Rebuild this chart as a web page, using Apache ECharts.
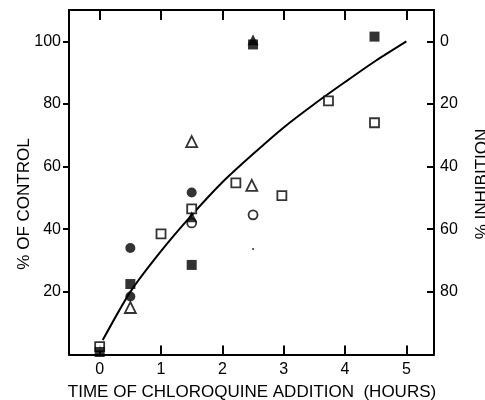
<!DOCTYPE html>
<html>
<head>
<meta charset="utf-8">
<script src="https://cdn.jsdelivr.net/npm/echarts@6/dist/echarts.min.js"></script>
<style>
html, body { margin: 0; padding: 0; background: #fff; }
#chart { width: 485px; height: 400px; }
</style>
</head>
<body>
<div id="chart"></div>
<script>
// tick labels
const xTicks = [0, 1, 2, 3, 4, 5]
const leftTicks = [20, 40, 60, 80, 100]
const rightTicks = [0, 20, 40, 60, 80]

// fitted curve
const curveX = [0.05, 0.5, 1, 1.5, 2, 2.5, 3, 3.5, 4, 4.5, 5]
const curveY = [4.6, 20, 33, 44.5, 55, 64, 72.5, 80, 87, 93.8, 100]

// measured points [hours, % of control]
const filledCircle = [[0.5, 34], [0.5, 18.5], [1.5, 51.7]]
const openCircle = [[1.5, 42], [2.5, 44.6]]
const openSquare = [[0, 2.5], [1, 38.5], [1.5, 46.5], [2.22, 54.8], [2.97, 50.7], [3.73, 81], [4.48, 74]]
const filledSquare = [[0, 0.8], [0.5, 22.5], [1.5, 28.6], [2.5, 99], [4.48, 101.5]]
const openTriangle = [[0.5, 15], [1.5, 68], [2.48, 54]]
const filledTriangle = [[2.5, 100.5], [1.5, 44]]
const speck = [[2.5, 33.7]]

const font = 'Liberation Sans'
const black = '#000'

const axisLine = { show: true, onZero: false, lineStyle: { color: black, width: 2 } }

const pointSeries = (data, symbol, size, filled) => ({
    type: 'scatter',
    data: data,
    symbol: symbol,
    symbolSize: size,
    itemStyle: {
        color: filled ? black : '#fff',
        borderColor: black,
        borderWidth: filled ? 0 : 1.8,
    },
    z: 5,
})

const titleStyle = (text) => ({
    text: text,
    font: '17px "Liberation Sans"',
    fill: black,
    textAlign: 'center',
    textVerticalAlign: 'middle',
    align: 'center',
    verticalAlign: 'middle',
})

const option = {
    backgroundColor: '#fff',
    animation: false,
    grid: { left: 69, right: 51, top: 10, bottom: 45.5 },
    xAxis: [
        {
            type: 'value',
            min: -0.5,
            max: 5.45,
            axisLine: axisLine,
            splitLine: { show: false },
            axisTick: { show: true, inside: true, length: 9, customValues: xTicks, lineStyle: { color: black, width: 2 } },
            axisLabel: { customValues: xTicks, color: black, fontFamily: font, fontSize: 16, margin: 7 },
        },
        {
            type: 'value',
            position: 'top',
            min: -0.5,
            max: 5.45,
            axisLine: axisLine,
            splitLine: { show: false },
            axisTick: { show: true, inside: true, length: 10, customValues: xTicks, lineStyle: { color: black, width: 2 } },
            axisLabel: { show: false },
        },
    ],
    yAxis: [
        {
            type: 'value',
            min: 0,
            max: 110,
            axisLine: axisLine,
            splitLine: { show: false },
            axisTick: { show: true, inside: false, length: 6, customValues: leftTicks, lineStyle: { color: black, width: 2 } },
            axisLabel: { customValues: leftTicks, color: black, fontFamily: font, fontSize: 16, margin: 8 },
        },
        {
            type: 'value',
            position: 'right',
            inverse: true,
            min: -10,
            max: 100,
            axisLine: axisLine,
            splitLine: { show: false },
            axisTick: { show: true, inside: true, length: 7, customValues: rightTicks, lineStyle: { color: black, width: 2 } },
            axisLabel: { customValues: rightTicks, color: black, fontFamily: font, fontSize: 16, margin: 6 },
        },
    ],
    graphic: [
        { type: 'text', x: 252, y: 392, style: titleStyle('TIME OF CHLOROQUINE ADDITION  (HOURS)') },
        { type: 'text', x: 24, y: 204, rotation: Math.PI / 2, style: titleStyle('% OF CONTROL') },
        { type: 'text', x: 482, y: 184, rotation: Math.PI / 2, style: titleStyle('% INHIBITION') },
    ],
    series: [
        {
            type: 'line',
            data: curveX.map((x, i) => [x, curveY[i]]),
            smooth: 0.25,
            showSymbol: false,
            lineStyle: { color: black, width: 2 },
            z: 3,
        },
        pointSeries(filledCircle, 'circle', 10, true),
        pointSeries(openCircle, 'circle', 9, false),
        pointSeries(openSquare, 'rect', 9, false),
        pointSeries(filledSquare, 'rect', 10, true),
        pointSeries(openTriangle, 'triangle', 11, false),
        pointSeries(filledTriangle, 'triangle', 11, true),
        pointSeries(speck, 'circle', 2, true),
    ],
}

const myChart = echarts.init(document.getElementById('chart'))
myChart.setOption(option)
</script>
</body>
</html>
